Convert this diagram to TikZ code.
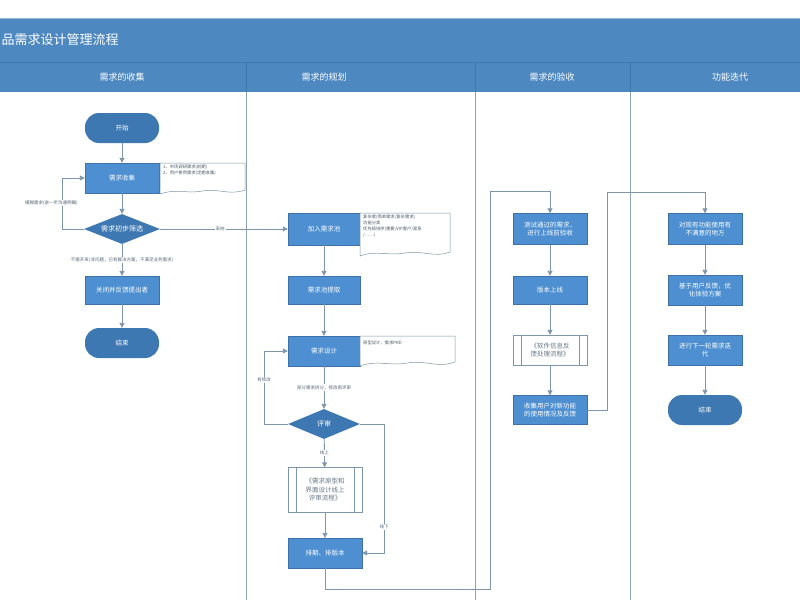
\documentclass[tikz,border=0pt]{standalone}
\usepackage{fontspec}
\setmainfont{Noto Sans CJK SC}
\usetikzlibrary{shapes.geometric,arrows.meta}
\definecolor{hdr}{HTML}{4E88C0}
\definecolor{hdrd}{HTML}{3F78B0}
\definecolor{box}{HTML}{4D8FD0}
\definecolor{dia}{HTML}{3E78B2}
\definecolor{ln}{HTML}{7E96AA}
\definecolor{lane}{HTML}{8FA3B5}
\begin{document}
\begin{tikzpicture}[x=1pt,y=-1pt,
  proc/.style={draw=box!80!black,line width=0.4pt,fill=box,text=white,minimum width=74pt,minimum height=30pt,align=center,font=\fontsize{6.5}{8.5}\selectfont,inner sep=1pt},
  term/.style={fill=dia,text=white,rounded corners=14pt,minimum width=74pt,minimum height=30pt,font=\fontsize{6.5}{8}\selectfont},
  dec/.style={diamond,fill=dia,text=white,aspect=2.6,inner sep=0.5pt,font=\fontsize{7}{8}\selectfont,minimum width=76pt,minimum height=30pt},
  sub/.style={draw=ln,fill=white,minimum width=74pt,align=center,font=\fontsize{6.5}{8.5}\selectfont,text=ln!80!black,inner sep=1pt},
  conn/.style={draw=ln,line width=0.9pt,-{Triangle[length=5pt,width=5pt]}},
  lbl/.style={font=\fontsize{4.5}{5.5}\selectfont,text=ln!70!black,fill=white,inner sep=1pt},
  ntxt/.style={font=\fontsize{4.3}{6}\selectfont,text=ln!60!black,align=left,anchor=north west,inner sep=1pt}]
\useasboundingbox (0,0) rectangle (800,600);
\fill[white] (0,0) rectangle (800,600);
% header
\fill[hdr] (0,18) rectangle (800,62);
\draw[hdr!60!white,line width=1pt] (0,18) -- (800,18);
\fill[hdr] (0,63) rectangle (800,92);
\draw[hdrd,line width=0.8pt] (0,62.5) -- (800,62.5);
\node[text=white,anchor=west,font=\fontsize{13}{15}\selectfont] (title) at (-2,40) {品需求设计管理流程};
\foreach \x/\t [count=\i] in {122/需求的收集,324/需求的规划,552/需求的验收,730/功能迭代}
  \node[text=white,font=\fontsize{9}{11}\selectfont] (h\i) at (\x,77) {\t};
\foreach \x in {246,475,630}{
  \draw[hdrd,line width=0.6pt] (\x,62) -- (\x,92);
  \draw[lane,line width=0.8pt] (\x,92) -- (\x,600);}
% notes
\newcommand\notebox[4]{%
  \draw[ln,fill=white,line width=0.5pt] (#1,#2) -- (#3,#2) -- (#3,#4)
   to[out=200,in=10] ({0.5*#1+0.5*#3},{#4+1}) to[out=190,in=20] (#1,{#4+4}) -- cycle;}
% lane 1
\node[term] (start) at (122,128) {开始};
\node[proc] (collect) at (122,178) {需求收集};
\notebox{160}{163}{245}{190}
\node[ntxt] (n1) at (162,164) {1、市场调研需求(前期)\\2、用户使用需求(定期收集)};
\node[dec] (screen) at (122,229) {需求初步筛选};
\node[proc,minimum height=28pt] (close) at (122,290) {关闭并反馈提出者};
\node[term] (end1) at (122,343) {结束};
% lane 2
\node[proc,minimum width=72pt,minimum height=32pt] (pool) at (324,229) {加入需求池};
\notebox{360}{213}{450}{252}
\node[ntxt] (n2) at (362,214) {复杂度(简单需求/复杂需求)\\功能分类\\优先级排序(重要/VIP客户/紧急\\/……)};
\node[proc,minimum width=72pt,minimum height=28pt] (extract) at (324,290) {需求池提取};
\node[proc,minimum width=72pt] (design) at (324,351) {需求设计};
\notebox{360}{336}{455}{362}
\node[ntxt] (n3) at (362,340) {原型设计，需求PRD};
\node[dec,minimum width=72pt] (review) at (324,424) {评审};
\node[sub,minimum height=45pt] (online) at (325,490) {《需求原型和\\界面设计线上\\评审流程》};
\draw[ln] ([xshift=8pt]online.north west) -- ([xshift=8pt]online.south west)
          ([xshift=-8pt]online.north east) -- ([xshift=-8pt]online.south east);
\node[proc] (sched) at (325,553) {排期、排版本};
% lane 3
\node[proc,minimum height=31pt] (test) at (550,229) {测试通过的需求，\\进行上线前验收};
\node[proc,minimum height=28pt] (release) at (550,290) {版本上线};
\node[sub,minimum height=30pt] (fb) at (550,350) {《软件信息反\\馈处理流程》};
\draw[ln] ([xshift=8pt]fb.north west) -- ([xshift=8pt]fb.south west)
          ([xshift=-8pt]fb.north east) -- ([xshift=-8pt]fb.south east);
\node[proc,minimum height=29pt] (gather) at (550,410) {收集用户对新功能\\的使用情况及反馈};
% lane 4
\node[proc,minimum height=31pt] (unsat) at (705,229) {对现有功能使用有\\不满意的地方};
\node[proc,minimum height=30pt] (opt) at (705,290) {基于用户反馈，优\\化体验方案};
\node[proc,minimum height=30pt] (next) at (705,350) {进行下一轮需求迭\\代};
\node[term] (end2) at (705,410) {结束};
% connectors
\draw[conn] (start) -- (collect);
\draw[conn] (collect) -- (screen);
\coordinate (l1) at (62,229);
\draw[conn] (screen.west) -- (l1) |- (collect.west);
\node[lbl,anchor=west] (lb1) at (24,203) {模糊需求(进一步沟通明确)};
\draw[conn] (screen) -- node[lbl] (lb2) {不需开发(非问题，已有解决方案，不满足业务需求)} (close);
\draw[conn] (close) -- (end1);
\draw[conn] (screen.east) -- node[lbl,pos=0.47] (lb3) {采纳} (pool.west);
\draw[conn] (pool) -- (extract);
\draw[conn] (extract) -- (design);
\draw[conn] (design) -- node[lbl] (lb4) {部分需求拆分，修改再评审} (review);
\coordinate (l2) at (264,424);
\draw[conn] (review.west) -- (l2) |- node[lbl,pos=0.3] (lb5) {有修改} (design.west);
\draw[conn] (review) -- node[lbl] (lb6) {线上} (online);
\draw[conn] (online) -- (sched);
\coordinate (l3) at (384,424);
\draw[conn] (review.east) -- (l3) |- node[lbl,pos=0.4] (lb7) {线下} (sched.east);
\coordinate (l4) at (325,589);
\coordinate (l5) at (490,589);
\coordinate (l6) at (490,191);
\draw[conn] (sched) -- (l4) -- (l5) -- (l6) -| (test.north);
\draw[conn] (test) -- (release);
\draw[conn] (release) -- (fb);
\draw[conn] (fb) -- (gather);
\coordinate (l7) at (607,410);
\coordinate (l8) at (607,192);
\draw[conn] (gather.east) -- (l7) -- (l8) -| (unsat.north);
\draw[conn] (unsat) -- (opt);
\draw[conn] (opt) -- (next);
\draw[conn] (next) -- (end2);
\end{tikzpicture}
\end{document}
